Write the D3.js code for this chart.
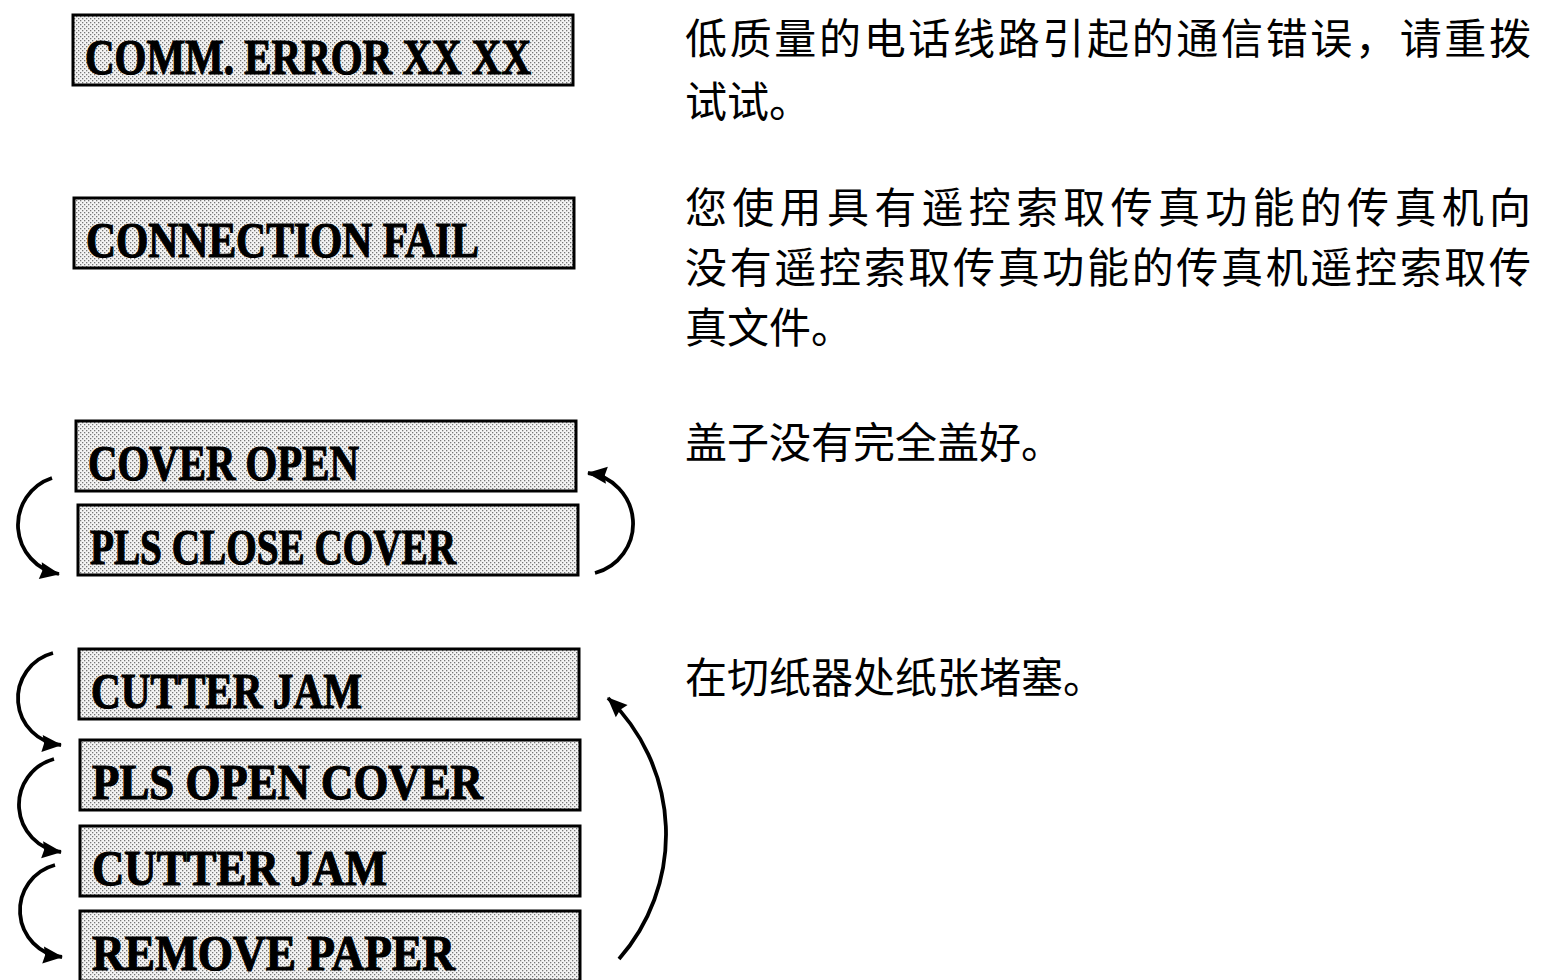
<!DOCTYPE html>
<html>
<head>
<meta charset="utf-8">
<script src="https://cdn.jsdelivr.net/npm/d3@7"></script>
<style>
  html, body { margin: 0; padding: 0; background: #fff; }
  svg { display: block; }
</style>
</head>
<body>
<svg id="chart" width="1548" height="980"></svg>
<script>
// ---- data ----
const messages = ["COMM. ERROR XX XX", "CONNECTION FAIL", "COVER OPEN", "PLS CLOSE COVER",
                  "CUTTER JAM", "PLS OPEN COVER", "CUTTER JAM", "REMOVE PAPER"];
const descriptionBox = [0, 1, 2, 4];
const descriptions = [
  ["低质量的电话线路引起的通信错误，请重拨", "试试。"],
  ["您使用具有遥控索取传真功能的传真机向", "没有遥控索取传真功能的传真机遥控索取传", "真文件。"],
  ["盖子没有完全盖好。"],
  ["在切纸器处纸张堵塞。"]
];
const leftArrows = [[2, 3], [4, 5], [5, 6], [6, 7]];
const rightArrows = [[3, 2], [7, 4]];

// ---- layout ----
const boxTops = [15, 198, 421, 505, 649, 740, 826, 911];
const boxLefts = [73, 74, 76, 78, 79, 80, 80, 80];
const textWidths = [446, 393, 271, 366, 271, 391, 295, 363];
const descBaselines = [[54, 117], [223, 283, 343], [458], [693]];
const fullLines = [[true, false], [true, true, false], [false], [false]];
const leftArcPts = [
  [[52, 478], [18, 524], [59, 574]],
  [[53, 653], [18, 700], [61, 745]],
  [[54, 759], [19, 806], [61, 852]],
  [[55, 865], [20, 912], [62, 957]]
];
const rightArcPts = [
  [[595, 573], [633, 526], [588, 473]],
  [[619, 959], [666, 836], [608, 698]]
];

const boxW = 500, boxH = 70;
const svg = d3.select("#chart");

const idx = d3.range(messages.length);
const yTop = d3.scaleOrdinal().domain(idx).range(boxTops);
const xLeft = d3.scaleOrdinal().domain(idx).range(boxLefts);

// halftone pattern
const defs = svg.append("defs");
const pat = defs.append("pattern").attr("id", "dots")
  .attr("width", 4).attr("height", 4).attr("patternUnits", "userSpaceOnUse");
pat.append("rect").attr("width", 4).attr("height", 4).attr("fill", "#f4f4f4");
pat.append("rect").attr("x", 0).attr("y", 0).attr("width", 1.3).attr("height", 1.3).attr("fill", "#777");
pat.append("rect").attr("x", 2).attr("y", 2).attr("width", 1.3).attr("height", 1.3).attr("fill", "#777");

const mk = defs.append("marker").attr("id", "arrow")
  .attr("viewBox", "-22 -11 24 22").attr("refX", 0).attr("refY", 0)
  .attr("markerWidth", 24).attr("markerHeight", 22)
  .attr("markerUnits", "userSpaceOnUse").attr("orient", "auto");
mk.append("path").attr("d", "M1,0 L-19,-8.5 L-17,0 L-19,8.5 Z").attr("fill", "#000");

// boxes
const boxes = svg.append("g").selectAll("g").data(idx).join("g");
boxes.append("rect")
  .attr("x", d => xLeft(d)).attr("y", d => yTop(d))
  .attr("width", boxW).attr("height", boxH)
  .attr("fill", "url(#dots)").attr("stroke", "#000").attr("stroke-width", 3);
boxes.append("text")
  .attr("x", d => xLeft(d) + 12).attr("y", d => yTop(d) + 59)
  .attr("font-family", "'Liberation Serif', 'Times New Roman', serif")
  .attr("font-weight", "bold").attr("font-size", 50)
  .attr("textLength", d => textWidths[d]).attr("lengthAdjust", "spacingAndGlyphs")
  .attr("fill", "#000").attr("stroke", "#000").attr("stroke-width", 1.2)
  .text(d => messages[d]);

// descriptions
const desc = svg.append("g");
descriptions.forEach((lines, i) => {
  lines.forEach((line, j) => {
    const t = desc.append("text")
      .attr("x", 685).attr("y", descBaselines[i][j])
      .attr("font-family", "'Noto Sans CJK SC', sans-serif")
      .attr("font-size", 42).attr("fill", "#000")
      .text(line);
    if (fullLines[i][j]) t.attr("textLength", 846).attr("lengthAdjust", "spacing");
  });
});

// arcs through three points
function arcPath(p) {
  const [a, b, c] = p;
  const ax = a[0], ay = a[1], bx = b[0], by = b[1], cx = c[0], cy = c[1];
  const d = 2 * (ax * (by - cy) + bx * (cy - ay) + cx * (ay - by));
  const ux = ((ax*ax + ay*ay) * (by - cy) + (bx*bx + by*by) * (cy - ay) + (cx*cx + cy*cy) * (ay - by)) / d;
  const uy = ((ax*ax + ay*ay) * (cx - bx) + (bx*bx + by*by) * (ax - cx) + (cx*cx + cy*cy) * (bx - ax)) / d;
  const r = Math.hypot(ax - ux, ay - uy);
  const cross = (bx - ax) * (cy - ay) - (by - ay) * (cx - ax);
  const sweep = cross > 0 ? 1 : 0;
  return `M${ax},${ay} A${r},${r} 0 0 ${sweep} ${cx},${cy}`;
}
const arcs = svg.append("g");
arcs.selectAll("path.l").data(leftArrows).join("path").attr("class", "l")
  .attr("d", (d, i) => arcPath(leftArcPts[i]))
  .attr("fill", "none").attr("stroke", "#000").attr("stroke-width", 3.8)
  .attr("marker-end", "url(#arrow)");
arcs.selectAll("path.r").data(rightArrows).join("path").attr("class", "r")
  .attr("d", (d, i) => arcPath(rightArcPts[i]))
  .attr("fill", "none").attr("stroke", "#000").attr("stroke-width", 3.8)
  .attr("marker-end", "url(#arrow)");
</script>
</body>
</html>
